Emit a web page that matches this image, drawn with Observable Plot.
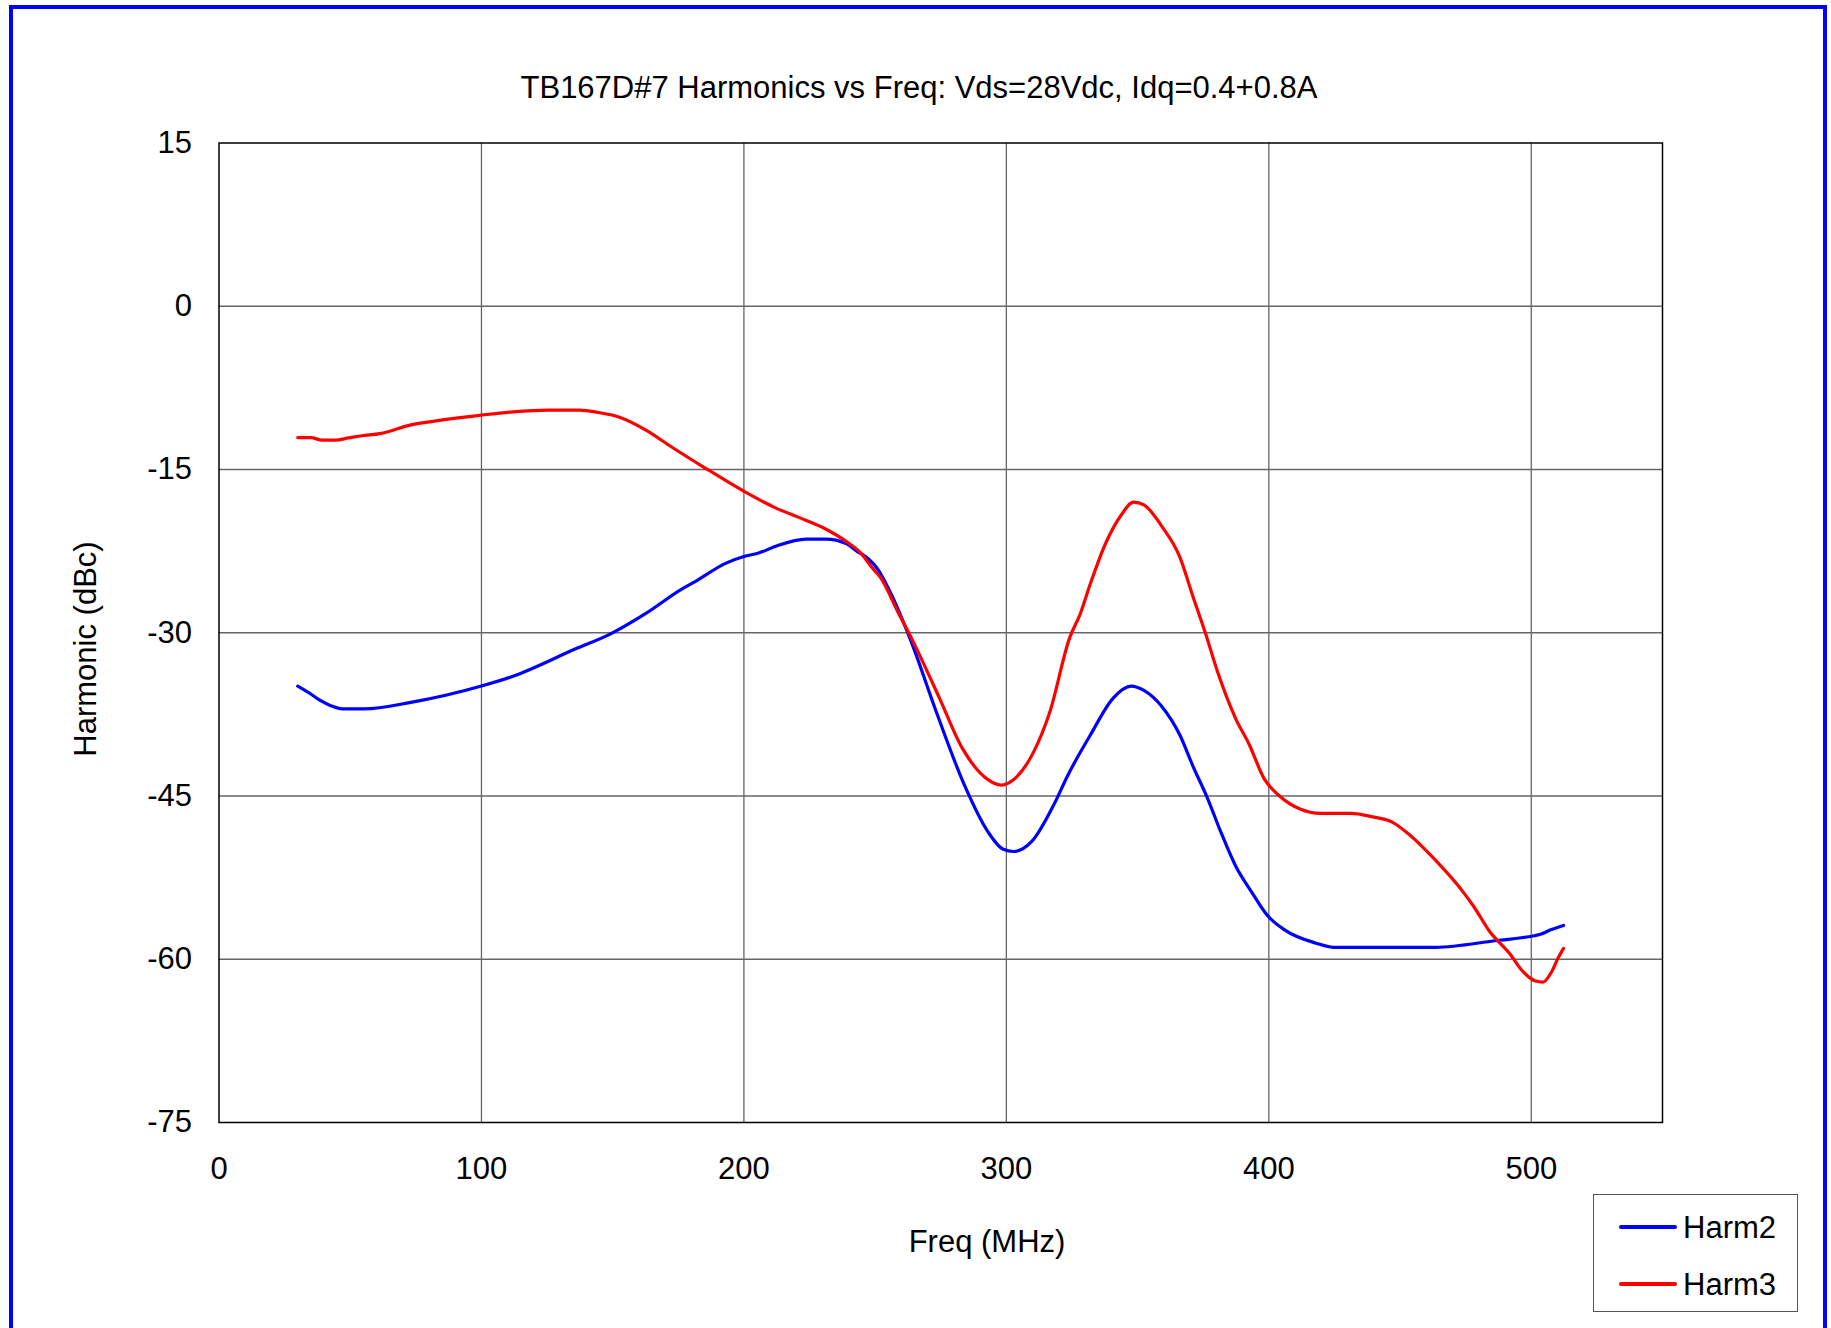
<!DOCTYPE html>
<html>
<head>
<meta charset="utf-8">
<script src="https://cdn.jsdelivr.net/npm/d3@7"></script>
<script src="https://cdn.jsdelivr.net/npm/@observablehq/plot@0.6"></script>
<style>
  html, body { margin: 0; padding: 0; background: #fff; overflow: hidden; }
  body { width: 1831px; height: 1328px; position: relative; font-family: Arial, "Liberation Sans", sans-serif; }
  .frame { position: absolute; left: 9px; top: 5px; width: 1810px; height: 1400px; border: 4px solid #0000ff; }
  .txt { position: absolute; font-size: 31px; line-height: 31px; white-space: nowrap; color: #000; }
  #chart { position: absolute; left: 0; top: 0; }
  .legend { position: absolute; left: 1593px; top: 1194px; width: 205px; height: 118px; border: 1.5px solid #555; box-sizing: border-box; background: #fff; }
  .legend .sw { position: absolute; left: 25px; width: 58px; height: 4px; border-radius: 2px; }
  .legend .lt { position: absolute; left: 89px; font-size: 31px; line-height: 31px; }
</style>
</head>
<body>
<div class="frame"></div>
<div id="chart"></div>
<div class="txt" id="title" style="left:919px; top:72px; transform:translateX(-50%);">TB167D#7 Harmonics vs Freq: Vds=28Vdc, Idq=0.4+0.8A</div>
<div class="txt" id="xtitle" style="left:987px; top:1226px; transform:translateX(-50%);">Freq (MHz)</div>
<div class="txt" id="ytitle" style="left:85px; top:649px; transform:translate(-50%,-50%) rotate(-90deg);">Harmonic (dBc)</div>
<div class="legend" id="legend"></div>
<script>
// ---- data ----
const seriesNames = ["Harm2", "Harm3"];
const seriesColors = ["#0000ff", "#ff0000"];
const xTicks = [0, 100, 200, 300, 400, 500];
const yTicks = [-75, -60, -45, -30, -15, 0, 15];

const harm2Freq = [30, 34.2, 38.4, 42.6, 46.9, 55.3, 73.1, 100, 112, 135.7, 149.2, 162.8, 176.3, 181.4, 193.2, 200, 205.9, 212.7, 223.7, 231.3, 238.9, 243, 247.4, 250.8, 256.0, 263.7, 273.5, 284.2, 293.0, 298.8, 302.7, 309.6, 318.3, 323.2, 332.0, 340.7, 347.6, 352.4, 359.3, 366.1, 371.0, 376.8, 381.7, 387.5, 393.4, 399.2, 406.0, 417.7, 424.6, 463.5, 486.0, 503.5, 507.4, 512.3];
const harm2Val = [-34.9, -35.5, -36.2, -36.7, -37.0, -37.0, -36.4, -34.9, -34.0, -31.5, -30.1, -28.2, -26.0, -25.3, -23.6, -23.0, -22.65, -22.0, -21.4, -21.4, -21.8, -22.5, -23.2, -24.1, -26.4, -30.8, -37.4, -44.1, -48.3, -49.9, -50.1, -49.2, -45.7, -43.2, -39.4, -36.0, -34.9, -35.3, -36.8, -39.4, -42.2, -45.3, -48.3, -51.5, -53.8, -55.9, -57.3, -58.5, -58.9, -58.9, -58.3, -57.7, -57.3, -56.9];

const harm3Freq = [30, 35, 39.3, 44.3, 49.4, 54.5, 61.3, 73.1, 86.6, 100, 112, 125.5, 137.4, 144.2, 152.6, 162.8, 172.9, 184.8, 200, 211.8, 220.9, 230.6, 238.9, 244.2, 249.1, 252.0, 258.9, 262.8, 268.6, 274.5, 283.2, 293.0, 297.9, 302.7, 310.5, 316.4, 324.2, 328.1, 332.0, 337.8, 343.7, 348.5, 352.4, 359.3, 366.1, 371.0, 375.8, 380.7, 387.5, 392.4, 398.2, 404.1, 411.9, 419.7, 431.4, 439.2, 447.0, 453.8, 463.5, 474.3, 478.2, 484.0, 491.8, 496.7, 501.6, 504.5, 507.4, 510.4, 512.3];
const harm3Val = [-12.07, -12.07, -12.3, -12.3, -12.1, -11.9, -11.7, -10.9, -10.4, -10.0, -9.7, -9.55, -9.55, -9.75, -10.2, -11.4, -13.0, -14.8, -17.0, -18.5, -19.4, -20.4, -21.6, -22.6, -24.1, -24.9, -28.2, -30.0, -32.9, -36.0, -40.6, -43.5, -44.0, -43.5, -40.9, -37.4, -30.4, -28.3, -25.5, -21.8, -19.2, -18.0, -18.25, -20.25, -23.05, -26.6, -30.0, -33.75, -37.96, -40.2, -43.4, -45.0, -46.2, -46.6, -46.6, -46.9, -47.4, -48.6, -50.9, -53.9, -55.2, -57.4, -59.5, -61.1, -62.0, -62.1, -61.3, -59.8, -59.0];

// ---- build table ----
const rows = [];
harm2Freq.forEach((f, i) => rows.push({series: "Harm2", freq: f, val: harm2Val[i]}));
harm3Freq.forEach((f, i) => rows.push({series: "Harm3", freq: f, val: harm3Val[i]}));

const W = 1831, H = 1328;
const chart = Plot.plot({
  width: W,
  height: H,
  marginLeft: 218.5,
  marginTop: 142.5,
  marginRight: W - 1662,
  marginBottom: H - 1122,
  style: {fontFamily: "Arial, 'Liberation Sans', sans-serif", fontSize: "31px", background: "transparent", color: "#000"},
  x: {domain: [0, 550]},
  y: {domain: [-75, 15]},
  color: {domain: seriesNames, range: seriesColors},
  marks: [
    Plot.gridX(xTicks.filter(d => d > 0), {stroke: "#666", strokeOpacity: 1, strokeWidth: 1.3}),
    Plot.gridY(yTicks.filter(d => d > -75 && d < 15), {stroke: "#666", strokeOpacity: 1, strokeWidth: 1.3}),
    Plot.axisX({ticks: xTicks, tickSize: 0, tickPadding: 34, label: null, fontSize: 31, tickFormat: d => String(d)}),
    Plot.axisY({ticks: yTicks, tickSize: 0, tickPadding: 27, label: null, fontSize: 31, tickFormat: d => String(d)}),
    Plot.line(rows, {x: "freq", y: "val", z: "series", stroke: "series", strokeWidth: 3.2, curve: "monotone-x"}),
    Plot.frame({stroke: "#000", strokeWidth: 1.5})
  ]
});
document.getElementById("chart").appendChild(chart);

// ---- legend ----
const legend = document.getElementById("legend");
const legendY = [32, 89];
seriesNames.forEach((name, i) => {
  const sw = document.createElement("div");
  sw.className = "sw";
  sw.style.top = (legendY[i] - 2) + "px";
  sw.style.background = seriesColors[i];
  legend.appendChild(sw);
  const t = document.createElement("div");
  t.className = "lt";
  t.style.top = (legendY[i] - 15) + "px";
  t.textContent = name;
  legend.appendChild(t);
});
</script>
</body>
</html>
